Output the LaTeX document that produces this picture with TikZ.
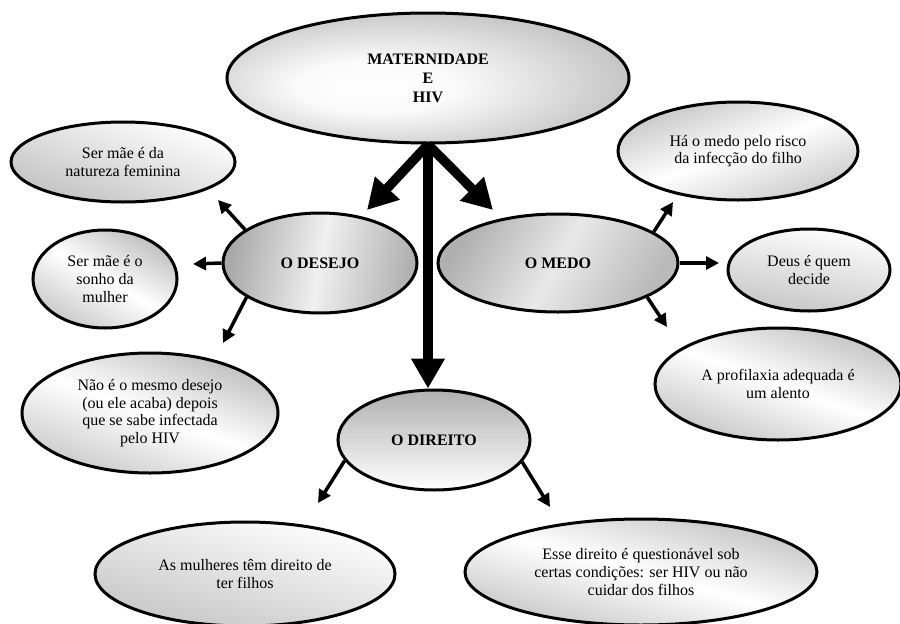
\documentclass[tikz,border=0pt]{standalone}
\usepackage{fontspec}
\setmainfont{Liberation Serif}
\usetikzlibrary{shapes.geometric,arrows.meta}
\pgfdeclareradialshading{centreglow}{\pgfpoint{-8bp}{-4bp}}{color(0bp)=(white); color(10bp)=(white!96!gray); color(36bp)=(gray!62); color(50bp)=(gray!62)}
\begin{document}
\begin{tikzpicture}[x=1pt,y=-1pt,
  bubble/.style={ellipse,draw,line width=3pt,inner sep=0pt,align=center,font=\fontsize{16}{17.7}\selectfont},
  topic/.style={bubble,font=\fontsize{16}{19}\selectfont\bfseries},
  bigarrow/.style={line width=9.5pt,-{Triangle[length=30pt,width=32pt]}},
  smallarrow/.style={line width=3.5pt,-{Triangle[length=13pt,width=13pt]}}]
\useasboundingbox (0,0) rectangle (900,624);
% centre and the three themes
\node[topic,minimum width=402pt,minimum height=130pt,shading=centreglow] (main) at (428,78) {MATERNIDADE\\E\\HIV};
\node[topic,minimum width=194pt,minimum height=100pt,left color=gray!68,right color=gray!62,middle color=gray!12,shading angle=80] (desejo) at (320,263) {O DESEJO};
\node[topic,minimum width=240pt,minimum height=98pt,left color=gray!62,right color=gray!55,middle color=gray!18,shading angle=60] (medo) at (558,263) {O MEDO};
\node[topic,minimum width=192pt,minimum height=100pt,top color=gray!62,bottom color=white] (direito) at (434,440) {O DIREITO};
% ideas around each theme
\node[bubble,minimum width=224pt,minimum height=80pt,left color=white,right color=gray!48,shading angle=-20] (natureza) at (123,162) {Ser mãe é da\\natureza feminina};
\node[bubble,minimum width=144pt,minimum height=98pt,left color=gray!50,right color=gray!42,middle color=white,shading angle=-30] (sonho) at (105,279) {Ser mãe é o\\sonho da\\mulher};
\node[bubble,minimum width=256pt,minimum height=120pt,left color=gray!52,right color=gray!42,middle color=white,shading angle=-20] (depois) at (150,413) {Não é o mesmo desejo\\(ou ele acaba) depois\\que se sabe infectada\\pelo HIV};
\node[bubble,minimum width=240pt,minimum height=98pt,left color=gray!45,right color=gray!42,middle color=white,shading angle=20] (risco) at (738,151) {Há o medo pelo risco\\da infecção do filho};
\node[bubble,minimum width=162pt,minimum height=82pt,left color=white,right color=gray!45,shading angle=-10] (deus) at (809,270) {Deus é quem\\decide};
\node[bubble,minimum width=246pt,minimum height=112pt,left color=gray!48,right color=gray!45,middle color=white,shading angle=-20] (profilaxia) at (778,384) {A profilaxia adequada é\\um alento};
\node[bubble,minimum width=300pt,minimum height=104pt,left color=white,right color=gray!45,shading angle=-15] (filhos) at (245,574) {As mulheres têm direito de\\ter filhos};
\node[bubble,minimum width=352pt,minimum height=106pt,left color=gray!48,right color=gray!45,middle color=white,shading angle=-15] (cuidar) at (641,572) {Esse direito é questionável sob\\certas condições: ser HIV ou não\\cuidar dos filhos};
% arrow tips
\coordinate (toDesejo) at (367,210);
\coordinate (toMedo) at (493,210);
\coordinate (toNatureza) at (218,200);
\coordinate (toSonho) at (193,264);
\coordinate (toDepois) at (223,343);
\coordinate (toRisco) at (673,202);
\coordinate (toDeus) at (719,263);
\coordinate (toProfilaxia) at (667,327);
\coordinate (toFilhos) at (318,503);
\coordinate (toCuidar) at (550,507);
% connectors
\draw[bigarrow] (main.south) -- (toDesejo);
\draw[bigarrow] (main.south) -- (toMedo);
\draw[bigarrow] (main.south) -- (main.south |- direito.north);
\draw[smallarrow] (desejo.156) -- (toNatureza);
\draw[smallarrow] (desejo.180) -- (toSonho);
\draw[smallarrow] (desejo.205) -- (toDepois);
\draw[smallarrow] (medo.18) -- (toRisco);
\draw[smallarrow] (medo.0) -- (toDeus);
\draw[smallarrow] (medo.-21) -- (toProfilaxia);
\draw[smallarrow] (direito.193) -- (toFilhos);
\draw[smallarrow] (direito.-14) -- (toCuidar);
\end{tikzpicture}
\end{document}
